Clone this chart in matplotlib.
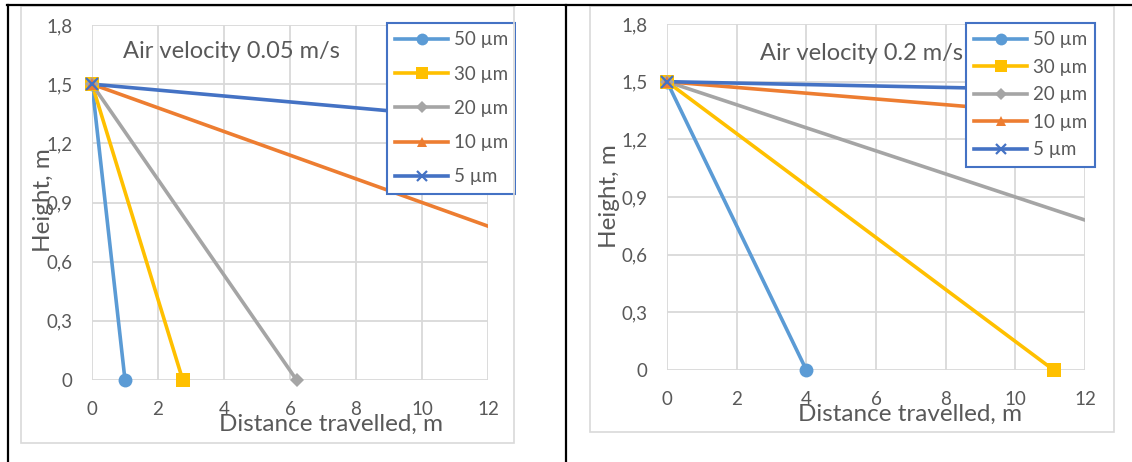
import matplotlib
matplotlib.use("Agg")
import matplotlib.pyplot as plt
from matplotlib.lines import Line2D
from matplotlib.patches import Rectangle

# ---------------- data ----------------
series_labels = ["50 µm", "30 µm", "20 µm", "10 µm", "5 µm"]
start_height = 1.5
end_height = 0.0
# horizontal distance where each droplet reaches the floor
dist_v005 = [1.0, 2.75, 6.2, 25.0, 100.0]
dist_v02 = [4.0, 11.1, 25.0, 100.0, 400.0]
panel_titles = ["Air velocity 0.05 m/s", "Air velocity 0.2 m/s"]
x_ticks = [0, 2, 4, 6, 8, 10, 12]
x_tick_labels = ["0", "2", "4", "6", "8", "10", "12"]
y_ticks = [0, 0.3, 0.6, 0.9, 1.2, 1.5, 1.8]
y_tick_labels = ["0", "0,3", "0,6", "0,9", "1,2", "1,5", "1,8"]
x_label = "Distance travelled, m"
y_label = "Height, m"

# ---------------- style ----------------
colors = ["#5B9BD5", "#FFC000", "#A5A5A5", "#ED7D31", "#4472C4"]
markers = ["o", "s", "D", "^", "x"]
msizes = [10, 10, 7, 9, 9]
txt_color = "#595959"
grid_color = "#D9D9D9"
plt.rcParams["font.family"] = ["Lato", "DejaVu Sans"]

W, H = 1132, 462
fig = plt.figure(figsize=(W / 100, H / 100), dpi=100)


def fx(px):
    return px / W


def fy(py):
    return 1 - py / H


# table lines
fig.add_artist(Line2D([fx(7), fx(1132)], [fy(4.5), fy(4.5)], color="black", lw=1.6))
fig.add_artist(Line2D([fx(7.5), fx(7.5)], [fy(4.5), fy(462)], color="black", lw=1.6))
fig.add_artist(Line2D([fx(565.5), fx(565.5)], [fy(4.5), fy(462)], color="black", lw=1.6))

# chart frames
fig.add_artist(Rectangle((fx(21), fy(443)), fx(514) - fx(21), fy(6) - fy(443),
                         fill=False, edgecolor=grid_color, lw=1.2, zorder=1))
fig.add_artist(Rectangle((fx(590), fy(432)), fx(1114) - fx(590), fy(6) - fy(432),
                         fill=False, edgecolor=grid_color, lw=1.2, zorder=1))

panels = [
    dict(dists=dist_v005, plot=(92, 488, 380, 25), xlab=(331, 424), ylab=(44, 200),
         title=(231, 52), leg=(387, 23), lspace=0.92),
    dict(dists=dist_v02, plot=(667, 1085, 370, 24), xlab=(910, 414), ylab=(610, 196),
         title=(862, 54), leg=(966, 23), lspace=0.56),
]

for p, title in zip(panels, panel_titles):
    x0, x1, yb, yt = p["plot"]
    ax = fig.add_axes([fx(x0), fy(yb), fx(x1) - fx(x0), fy(yt) - fy(yb)])
    ax.set_xlim(0, 12)
    ax.set_ylim(0, 1.8)
    for s in ax.spines.values():
        s.set_visible(False)
    ax.set_xticks(x_ticks)
    ax.set_xticklabels(x_tick_labels)
    ax.set_yticks(y_ticks)
    ax.set_yticklabels(y_tick_labels)
    ax.tick_params(length=0, labelsize=13.5, labelcolor=txt_color)
    ax.tick_params(axis="x", pad=15)
    ax.tick_params(axis="y", pad=14)
    ax.grid(True, color=grid_color, lw=1.3)
    ax.set_axisbelow(True)

    handles = []
    for lab, d, c, m, ms in zip(series_labels, p["dists"], colors, markers, msizes):
        xs = [0.0, d]
        ys = [start_height, end_height]
        ax.plot(xs, ys, color=c, lw=2.6, solid_capstyle="butt", zorder=3)
        xin = [x for x, y in zip(xs, ys) if x <= 12]
        yin = [y for x, y in zip(xs, ys) if x <= 12]
        mew = 1.6 if m == "x" else 0
        ax.plot(xin, yin, linestyle="none", marker=m, markersize=ms, color=c,
                markeredgewidth=mew, clip_on=False, zorder=4)
        handles.append(Line2D([], [], color=c, lw=2.6, marker=m, markersize=ms * 0.85,
                              markeredgewidth=mew))

    tx = (p["title"][0] - x0) / (x1 - x0)
    ty = (yb - p["title"][1]) / (yb - yt)
    ax.text(tx, ty, title, transform=ax.transAxes, ha="center", va="center",
            fontsize=17, color=txt_color, zorder=2)

    ax.set_xlabel(x_label, fontsize=17.5, color=txt_color)
    ax.xaxis.set_label_coords((p["xlab"][0] - x0) / (x1 - x0), (yb - p["xlab"][1]) / (yb - yt))
    ax.xaxis.label.set_va("center")
    ax.set_ylabel(y_label, fontsize=17.5, color=txt_color)
    ax.yaxis.set_label_coords((p["ylab"][0] - x0) / (x1 - x0), (yb - p["ylab"][1]) / (yb - yt))
    ax.yaxis.label.set_va("center")

    lx = (p["leg"][0] - x0) / (x1 - x0)
    ly = (yb - p["leg"][1]) / (yb - yt)
    leg = ax.legend(handles, series_labels, loc="upper left", bbox_to_anchor=(lx, ly),
                    borderaxespad=0, fontsize=13.5, frameon=True, fancybox=False,
                    edgecolor="#4472C4", framealpha=1, handlelength=2.8,
                    handletextpad=0.3, labelspacing=p["lspace"], borderpad=0.45,
                    labelcolor=txt_color)
    leg.get_frame().set_linewidth(1.5)
    leg.set_zorder(10)

# hide the part of the left legend that runs past the left chart frame
fig.add_artist(Rectangle((fx(515.5), fy(200)), fx(564) - fx(515.5), fy(6) - fy(200),
                         facecolor="white", edgecolor="none", zorder=20))

fig.savefig("out.png", dpi=100)
